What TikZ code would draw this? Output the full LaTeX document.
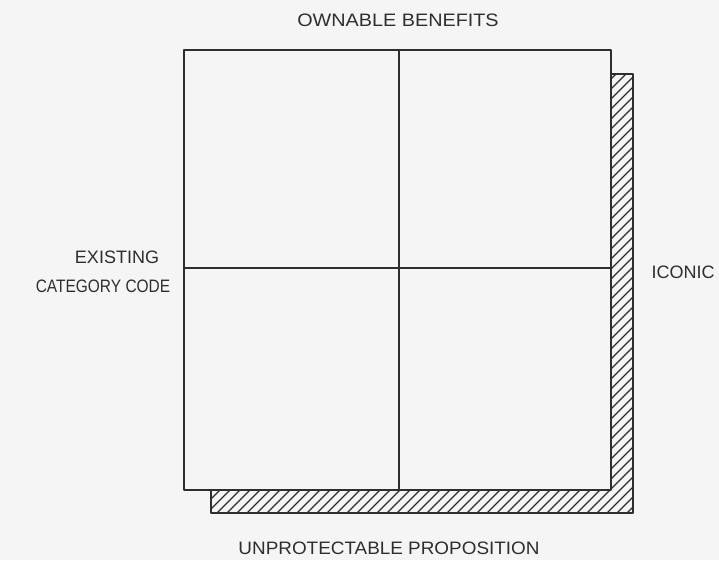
\documentclass[tikz,border=0pt]{standalone}
\usepackage{fontspec}
\setmainfont{Liberation Sans}
\begin{document}
\begin{tikzpicture}[x=1pt,y=-1pt,
  ink/.style={draw=inkc,line width=1.6pt,line join=round},
  hatch/.style={draw=inkc,line width=1.1pt},
  axislabel/.style={text=inkc,font=\fontsize{18}{20}\selectfont,inner sep=0pt,align=center}]
\definecolor{paper}{HTML}{F5F5F5}
\definecolor{inkc}{HTML}{2E2E2E}
% page
\fill[paper] (0,0) rectangle (719,560);
\useasboundingbox (0,0) rectangle (719,560);

% corner points of the grid
\coordinate (tl) at (184,50);
\coordinate (tr) at (611,50);
\coordinate (br) at (611,490);
\coordinate (bl) at (184,490);
\coordinate (tm) at (399,50);
\coordinate (bm) at (399,490);
\coordinate (lm) at (184,268);
\coordinate (rm) at (611,268);

% hatched drop shadow (right and bottom)
\begin{scope}
  \clip (211,490) -- (211,513) -- (633,513) -- (633,74) -- (611,74) -- (611,490) -- cycle;
  \foreach \k in {-10,...,60}
    \draw[hatch] (200+\k*10,520) -- (200+\k*10+460,60);
\end{scope}
\draw[ink] (211,490) -- (211,513) -- (633,513) -- (633,74) -- (611,74);

% grid
\draw[ink] (tl) -- (tr) -- (br) -- (bl) -- cycle;
\draw[ink] (tm) -- (bm);
\draw[ink] (lm) -- (rm);

% axis labels
\node[axislabel,xscale=1.1] (top) at (398,20) {OWNABLE BENEFITS};
\node[axislabel,xscale=1.05] (bottom) at (389,548) {UNPROTECTABLE PROPOSITION};
\node[axislabel] (left1) at (117,257) {EXISTING};
\node[axislabel,xscale=0.86] (left2) at (103,286) {CATEGORY CODE};
\node[axislabel] (right) at (683,272) {ICONIC};
\end{tikzpicture}
\end{document}
